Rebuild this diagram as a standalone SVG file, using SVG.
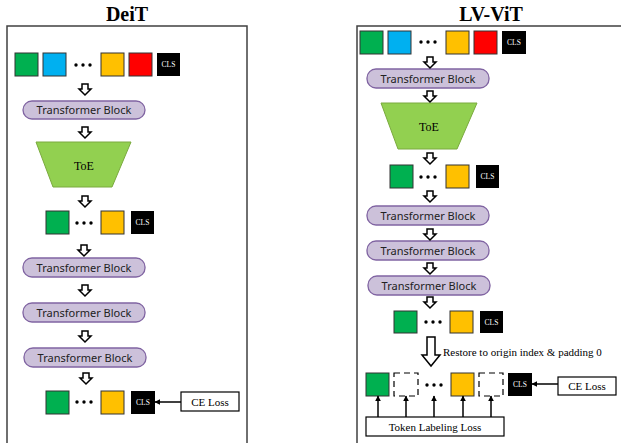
<svg xmlns="http://www.w3.org/2000/svg" xmlns:xlink="http://www.w3.org/1999/xlink" width="621" height="443" viewBox="0 0 621 443">
<style>
.panel{fill:#fff;stroke:#404040;stroke-width:1.5}
.title{font-family:"Liberation Serif",serif;font-weight:bold;font-size:20px;fill:#000;text-anchor:middle}
.sq{stroke:#333;stroke-width:1}
.g{fill:#00b050}.b{fill:#00b0f0}.y{fill:#ffc000}.r{fill:#ff0000}.k{fill:#000}
.cls{font-family:"Liberation Serif",serif;font-size:7.5px;fill:#fff;text-anchor:middle}
.tb{fill:#ccc1da;stroke:#8064a2;stroke-width:1.3}
.tbt{font-family:"Noto Sans",sans-serif;font-size:11px;fill:#222;text-anchor:middle}
.toe{fill:#92d050;stroke:#7aaa3e;stroke-width:1}
.serif{font-family:"Liberation Serif",serif;font-size:11px;fill:#000}
.ha{fill:#fff;stroke:#000;stroke-width:1.5;stroke-linejoin:miter}
.box{fill:#fff;stroke:#000;stroke-width:1.2}
.dash{fill:#fff;stroke:#000;stroke-width:1.2;stroke-dasharray:6 4}
.conn{stroke:#000;stroke-width:1.5;fill:none}
</style>
<defs>
<path id="ha" d="M-3,0 H3 V5 H6 L0,11 L-6,5 H-3 Z" class="ha"/>
<g id="dots"><circle cx="0" cy="0" r="1.7"/><circle cx="7" cy="0" r="1.7"/><circle cx="14" cy="0" r="1.7"/></g>
<marker id="ah" viewBox="0 0 10 10" refX="9" refY="5" markerWidth="6" markerHeight="6" orient="auto" markerUnits="userSpaceOnUse"><path d="M0,0 L10,5 L0,10 Z" fill="#000"/></marker>
</defs>

<!-- Panels -->
<g id="deit-panel">
<rect class="panel" x="7" y="26" width="240" height="430"/>
<text class="title" x="127" y="21">DeiT</text>
</g>
<g id="lvvit-panel">
<rect class="panel" x="357" y="26" width="300" height="430"/>
<text class="title" x="491" y="21">LV-ViT</text>
</g>

<!-- DeiT nodes -->
<g id="deit-tokens-in">
<rect class="sq g" x="15" y="53" width="23" height="23"/>
<rect class="sq b" x="43" y="53" width="23" height="23"/>
<use href="#dots" x="76" y="65"/>
<rect class="sq y" x="101" y="53" width="23" height="23"/>
<rect class="sq r" x="129" y="53" width="23" height="23"/>
<rect class="k" x="157" y="53" width="23" height="23"/>
<text class="cls" x="168.5" y="67">CLS</text>
</g>
<g id="deit-tb1">
<rect class="tb" x="23" y="101" width="122" height="18" rx="9"/>
<text class="tbt" x="84" y="114">Transformer Block</text>
</g>
<g id="deit-toe">
<polygon class="toe" points="36,142 131,142 112,187 53,187"/>
<text class="serif" x="84" y="170" text-anchor="middle" style="font-size:12px">ToE</text>
</g>
<g id="deit-tokens-mid">
<rect class="sq g" x="46" y="211" width="23" height="23"/>
<use href="#dots" x="77" y="223"/>
<rect class="sq y" x="101" y="211" width="23" height="23"/>
<rect class="k" x="131" y="211" width="23" height="23"/>
<text class="cls" x="142.5" y="225">CLS</text>
</g>
<g id="deit-tb2">
<rect class="tb" x="23" y="258" width="122" height="19" rx="9"/>
<text class="tbt" x="84" y="271.5">Transformer Block</text>
</g>
<g id="deit-tb3">
<rect class="tb" x="23" y="303" width="122" height="19" rx="9"/>
<text class="tbt" x="84" y="316.5">Transformer Block</text>
</g>
<g id="deit-tb4">
<rect class="tb" x="24" y="348" width="122" height="19" rx="9"/>
<text class="tbt" x="85" y="361.5">Transformer Block</text>
</g>
<g id="deit-tokens-out">
<rect class="sq g" x="46" y="391" width="23" height="23"/>
<use href="#dots" x="77" y="402"/>
<rect class="sq y" x="101" y="391" width="23" height="23"/>
<rect class="k" x="131" y="391" width="24" height="23"/>
<text class="cls" x="143" y="405">CLS</text>
</g>
<g id="deit-ce">
<rect class="box" x="181" y="392" width="58" height="19"/>
<text class="serif" x="210" y="405.5" text-anchor="middle">CE Loss</text>
</g>

<!-- LV-ViT nodes -->
<g id="lv-tokens-in">
<rect class="sq g" x="360" y="31" width="23" height="23"/>
<rect class="sq b" x="388" y="31" width="23" height="23"/>
<use href="#dots" x="421" y="42"/>
<rect class="sq y" x="446" y="31" width="23" height="23"/>
<rect class="sq r" x="474" y="31" width="23" height="23"/>
<rect class="k" x="502" y="31" width="24" height="23"/>
<text class="cls" x="514" y="45">CLS</text>
</g>
<g id="lv-tb1">
<rect class="tb" x="367" y="69" width="122" height="19" rx="9"/>
<text class="tbt" x="428" y="82.5">Transformer Block</text>
</g>
<g id="lv-toe">
<polygon class="toe" points="381,103 477,103 457,149 398,149"/>
<text class="serif" x="429" y="131" text-anchor="middle" style="font-size:12px">ToE</text>
</g>
<g id="lv-tokens-mid">
<rect class="sq g" x="390" y="165" width="23" height="23"/>
<use href="#dots" x="421" y="177"/>
<rect class="sq y" x="446" y="165" width="23" height="23"/>
<rect class="k" x="476" y="165" width="23" height="23"/>
<text class="cls" x="487.5" y="179">CLS</text>
</g>
<g id="lv-tb2">
<rect class="tb" x="367" y="206" width="122" height="19" rx="9"/>
<text class="tbt" x="428" y="219.5">Transformer Block</text>
</g>
<g id="lv-tb3">
<rect class="tb" x="367" y="241" width="122" height="19" rx="9"/>
<text class="tbt" x="428" y="254.5">Transformer Block</text>
</g>
<g id="lv-tb4">
<rect class="tb" x="368" y="276" width="122" height="19" rx="9"/>
<text class="tbt" x="429" y="289.5">Transformer Block</text>
</g>
<g id="lv-tokens-out">
<rect class="sq g" x="394" y="311" width="23" height="22"/>
<use href="#dots" x="426" y="322"/>
<rect class="sq y" x="450" y="311" width="23" height="22"/>
<rect class="k" x="480" y="311" width="23" height="22"/>
<text class="cls" x="491.5" y="324.5">CLS</text>
</g>
<g id="lv-restore-label">
<text class="serif" x="443" y="356">Restore to origin index &amp; padding 0</text>
</g>
<g id="lv-tokens-restored">
<rect class="sq g" x="366" y="373" width="23" height="23"/>
<rect class="dash" x="394" y="373" width="24" height="23"/>
<use href="#dots" x="427" y="385"/>
<rect class="sq y" x="451" y="373" width="23" height="23"/>
<rect class="dash" x="479" y="373" width="24" height="23"/>
<rect class="k" x="508" y="373" width="24" height="23"/>
<text class="cls" x="520" y="387">CLS</text>
</g>
<g id="lv-ce">
<rect class="box" x="558" y="377" width="58" height="18"/>
<text class="serif" x="587" y="390" text-anchor="middle">CE Loss</text>
</g>
<g id="lv-tl">
<rect class="box" x="366" y="417" width="138" height="19"/>
<text class="serif" x="435" y="430.5" text-anchor="middle">Token Labeling Loss</text>
</g>

<!-- Connectors -->
<g id="connectors">
<use href="#ha" x="85" y="84"/>
<use href="#ha" x="85" y="127"/>
<use href="#ha" x="85" y="196"/>
<use href="#ha" x="84" y="245"/>
<use href="#ha" x="85" y="285"/>
<use href="#ha" x="85" y="331"/>
<use href="#ha" x="86" y="373"/>
<line class="conn" x1="181" y1="402" x2="155" y2="402" marker-end="url(#ah)"/>

<use href="#ha" x="430" y="57"/>
<use href="#ha" x="430" y="91"/>
<use href="#ha" x="430" y="153"/>
<use href="#ha" x="430" y="191"/>
<use href="#ha" x="430" y="229"/>
<use href="#ha" x="430" y="263"/>
<use href="#ha" x="430" y="297"/>
<path class="ha" d="M427,337 H435 V355 H440 L431,366 L422,355 H427 Z"/>
<line class="conn" x1="558" y1="384" x2="532" y2="384" marker-end="url(#ah)"/>
<line class="conn" x1="378" y1="417" x2="378" y2="396" marker-end="url(#ah)"/>
<line class="conn" x1="406" y1="417" x2="406" y2="396" marker-end="url(#ah)"/>
<line class="conn" x1="434" y1="417" x2="434" y2="396" marker-end="url(#ah)"/>
<line class="conn" x1="463" y1="417" x2="463" y2="396" marker-end="url(#ah)"/>
<line class="conn" x1="491" y1="417" x2="491" y2="396" marker-end="url(#ah)"/>
</g>
</svg>
